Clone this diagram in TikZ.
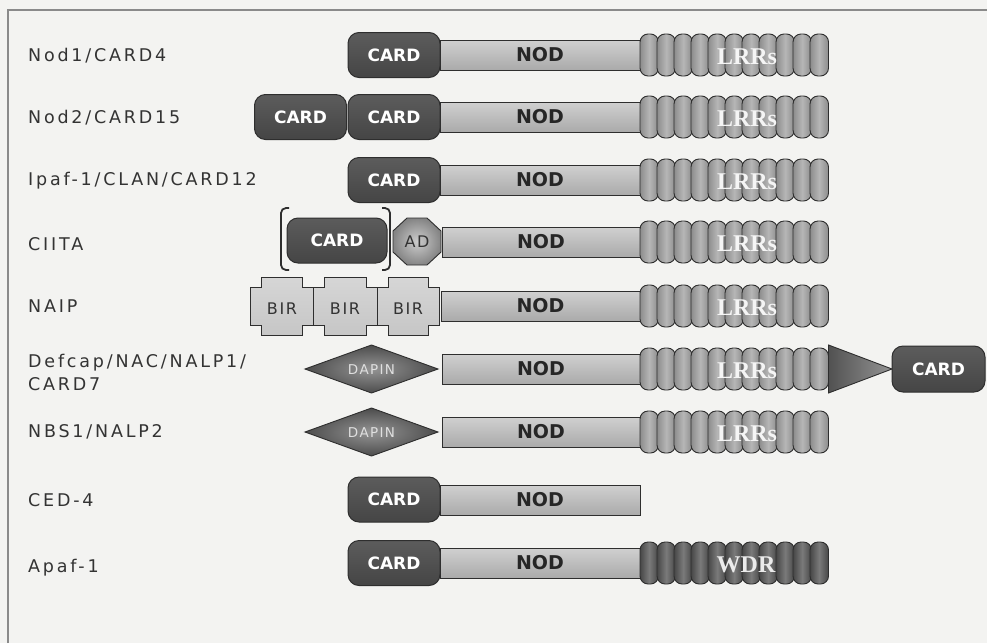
\documentclass[tikz,border=0pt]{standalone}
\usepackage{fontspec}
\newfontfamily\lblfont[LetterSpace=16]{DejaVu Sans}
\newfontfamily\domfont[LetterSpace=10]{DejaVu Sans}
\newfontfamily\dvsans{DejaVu Sans}
\newfontfamily\serifface{Liberation Serif}
\definecolor{bg}{HTML}{F3F3F1}
\definecolor{cardl}{HTML}{5C5C5C}
\definecolor{cardd}{HTML}{454545}
\definecolor{edge}{HTML}{2E2E2E}
\definecolor{nodtop}{HTML}{D0D0D0}
\definecolor{nodbot}{HTML}{AAAAAA}
\definecolor{beadd}{HTML}{8C8C8C}
\definecolor{beadl}{HTML}{B6B6B6}
\definecolor{wdrd}{HTML}{474747}
\definecolor{wdrl}{HTML}{7A7A7A}
\definecolor{txt}{HTML}{333333}
\definecolor{framec}{HTML}{8A8A8A}
\definecolor{birc}{HTML}{C6C6C6}
\definecolor{birl}{HTML}{D6D6D6}
\tikzset{
  cardbox/.style={rounded corners=11pt, draw=edge, line width=1pt, top color=cardl, bottom color=cardd,
    minimum width=92pt, minimum height=45pt, inner sep=0pt, text=white,
    font=\dvsans\bfseries\fontsize{17}{17}\selectfont},
  nodbar/.style={draw=edge, line width=0.9pt, top color=nodtop, bottom color=nodbot,
    minimum width=200pt, minimum height=30pt, inner sep=0pt, text=black!85,
    font=\dvsans\bfseries\fontsize{19}{19}\selectfont},
  lbl/.style={anchor=west, inner sep=0pt, text=txt, align=left,
    font=\lblfont\fontsize{17.5}{23}\selectfont},
  domtxt/.style={inner sep=0pt, text=txt, font=\domfont\fontsize{16}{16}\selectfont},
  dapintxt/.style={inner sep=0pt, text=black!12, font=\domfont\fontsize{13.5}{13.5}\selectfont},
  reptxt/.style={inner sep=0pt, text=black!4, font=\serifface\bfseries\fontsize{24}{24}\selectfont},
  bead/.style={draw=edge, line width=0.9pt, rounded corners=8pt},
  brk/.style={draw=edge, line width=1.8pt, rounded corners=5pt},
}
\newcommand\beadrow[3]{%
  \foreach \i in {0,...,10}{%
    \path[bead, left color=#2, right color=#2, middle color=#3]
      ({640+\i*17},#1-21) rectangle ({658.5+\i*17},#1+21);
  }%
}
\newcommand\birshape[3]{%
  \path[draw=edge, line width=0.9pt, top color=birl, bottom color=birc]
   (#1+11,#3-29) -- (#2-11,#3-29) -- (#2-11,#3-19) -- (#2,#3-19) -- (#2,#3+19) -- (#2-11,#3+19)
   -- (#2-11,#3+29) -- (#1+11,#3+29) -- (#1+11,#3+19) -- (#1,#3+19) -- (#1,#3-19) -- (#1+11,#3-19) -- cycle;
}
\newcommand\dapin[1]{%
  \path[draw=edge, line width=0.9pt, inner color=black!42, outer color=black!70]
   (305,#1) -- (371.5,#1-24) -- (438,#1) -- (371.5,#1+24) -- cycle;
}
\begin{document}
\begin{tikzpicture}[x=1pt,y=-1pt]
\useasboundingbox (0,0) rectangle (987,643);
\fill[bg] (0,0) rectangle (987,643);
\draw[framec, line width=1.3pt] (8,643) -- (8,10) -- (987,10);

% labels
\node[lbl] (l1) at (28,56) {Nod1/CARD4};
\node[lbl] (l2) at (28,118) {Nod2/CARD15};
\node[lbl] (l3) at (28,181) {Ipaf-1/CLAN/CARD12};
\node[lbl] (l4) at (28,244) {CIITA};
\node[lbl] (l5) at (28,306) {NAIP};
\node[lbl] (l6) at (28,372) {Defcap/NAC/NALP1/\\CARD7};
\node[lbl] (l7) at (28,432) {NBS1/NALP2};
\node[lbl] (l8) at (28,500) {CED-4};
\node[lbl] (l9) at (28,568) {Apaf-1};

% Row 1: Nod1
\node[nodbar] (r1nod) at (540,55) {NOD};
\beadrow{55}{beadd}{beadl}
\node[reptxt] (r1lrr) at (747,57) {LRRs};
\node[cardbox] (r1card) at (394,55) {CARD};

% Row 2: Nod2
\node[nodbar] (r2nod) at (540,117) {NOD};
\beadrow{117}{beadd}{beadl}
\node[reptxt] (r2lrr) at (747,119) {LRRs};
\node[cardbox] (r2carda) at (300.5,117) {CARD};
\node[cardbox] (r2cardb) at (394,117) {CARD};

% Row 3: Ipaf-1
\node[nodbar] (r3nod) at (540,180) {NOD};
\beadrow{180}{beadd}{beadl}
\node[reptxt] (r3lrr) at (747,182) {LRRs};
\node[cardbox] (r3card) at (394,180) {CARD};

% Row 4: CIITA
\node[nodbar, minimum width=198pt] (r4nod) at (541,242) {NOD};
\beadrow{242}{beadd}{beadl}
\node[reptxt] (r4lrr) at (747,244) {LRRs};
\node[cardbox, minimum width=100pt] (r4card) at (337,240.5) {CARD};
\path[draw=edge, line width=0.9pt, inner color=black!20, outer color=black!48]
  (407,218) -- (427,218) -- (441,231) -- (441,252) -- (427,265) -- (407,265) -- (393,252) -- (393,231) -- cycle;
\node[domtxt] (r4ad) at (417,242) {AD};
\draw[brk] (289,208) -- (281,208) -- (281,270) -- (289,270);
\draw[brk] (382,208) -- (390,208) -- (390,270) -- (382,270);

% Row 5: NAIP
\node[nodbar, minimum width=199pt] (r5nod) at (540.5,306) {NOD};
\beadrow{306}{beadd}{beadl}
\node[reptxt] (r5lrr) at (747,308) {LRRs};
\birshape{250}{313}{306}
\birshape{313}{377}{306}
\birshape{377}{439}{306}
\node[domtxt] (r5bir1) at (282,309) {BIR};
\node[domtxt] (r5bir2) at (345,309) {BIR};
\node[domtxt] (r5bir3) at (408,309) {BIR};

% Row 6: Defcap
\node[nodbar, minimum width=198pt] (r6nod) at (541,369) {NOD};
\beadrow{369}{beadd}{beadl}
\node[reptxt] (r6lrr) at (747,371) {LRRs};
\dapin{369}
\node[dapintxt] (r6dapin) at (371.5,370) {DAPIN};
\path[draw=edge, line width=0.9pt, left color=black!68, right color=black!42]
  (828.5,345) -- (892,369) -- (828.5,393) -- cycle;
\node[cardbox, minimum width=93pt, minimum height=46pt] (r6card) at (938.5,369) {CARD};

% Row 7: NBS1
\node[nodbar, minimum width=198pt] (r7nod) at (541,432) {NOD};
\beadrow{432}{beadd}{beadl}
\node[reptxt] (r7lrr) at (747,434) {LRRs};
\dapin{432}
\node[dapintxt] (r7dapin) at (371.5,433) {DAPIN};

% Row 8: CED-4
\node[nodbar] (r8nod) at (540,500) {NOD};
\node[cardbox] (r8card) at (394,499.5) {CARD};

% Row 9: Apaf-1
\node[nodbar] (r9nod) at (540,563) {NOD};
\beadrow{563}{wdrd}{wdrl}
\node[reptxt, text=black!8] (r9wdr) at (746,565) {WDR};
\node[cardbox] (r9card) at (394,563) {CARD};
\end{tikzpicture}
\end{document}
